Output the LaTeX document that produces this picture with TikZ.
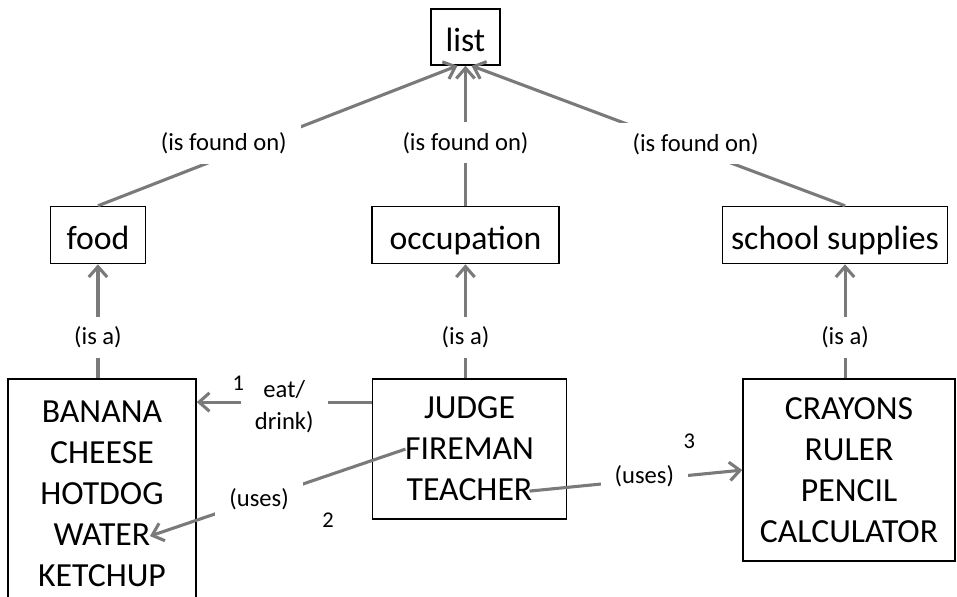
\documentclass[tikz,border=0pt]{standalone}
\usepackage{fontspec}
\setmainfont{Carlito}
\usetikzlibrary{arrows.meta,positioning}
\definecolor{linkgray}{RGB}{122,122,122}

\begin{document}
\begin{tikzpicture}[
    box/.style={rectangle,draw=black,line width=1.1pt,fill=white,align=center,
      inner sep=2pt,font=\fontsize{24}{29.2}\selectfont},
    concept/.style={box,text height=0.82cm,text depth=0.1cm,minimum height=1.425cm},
    link/.style={draw=linkgray,line width=2.2pt},
    arrow/.style={link,-{Straight Barb[length=2.6mm,width=4.6mm]}},
    lbl/.style={fill=white,inner xsep=10pt,inner ysep=7pt,align=center,
      font=\fontsize{17.5}{22.7}\selectfont},
    num/.style={inner sep=0pt,font=\fontsize{16}{19}\selectfont}
  ]
  \useasboundingbox (0,0) rectangle (23.925,-14.925);

  % concepts
  \node[concept,minimum width=1.725cm,minimum height=1.4cm] (list) at (11.6375,-0.925) {list};
  \node[concept,minimum width=4.675cm,below=3.5cm of list] (occupation) {occupation};
  \node[concept,minimum width=2.375cm,left=5.625cm of occupation] (food) {food};
  \node[concept,minimum width=5.625cm,right=4.05cm of occupation] (supplies) {school supplies};

  % examples
  \node[box,minimum width=4.7cm,minimum height=5.75cm,below=2.85cm of food,xshift=0.1cm] (foods)
    {BANANA\\CHEESE\\HOTDOG\\WATER\\KETCHUP};
  \node[box,minimum width=4.85cm,minimum height=3.5cm,below=2.85cm of occupation,xshift=0.1cm] (jobs)
    {JUDGE\\FIREMAN\\TEACHER};
  \node[box,minimum width=5.3cm,minimum height=4.55cm,below=2.85cm of supplies,xshift=0.35cm] (sitems)
    {CRAYONS\\RULER\\PENCIL\\CALCULATOR};

  \coordinate (sstop) at ([xshift=0.25cm]supplies.north);
  \coordinate (ssfoot) at ([xshift=0.25cm]supplies.south);
  \coordinate (eatstart) at ([yshift=1.175cm]jobs.west);
  \coordinate (fireman) at ([xshift=-1.6cm]jobs.center);
  \coordinate (teacher) at ([xshift=1.5cm,yshift=-1.05cm]jobs.center);
  \coordinate (water) at ([xshift=1.2cm,yshift=-1.05cm]foods.center);

  % is found on
  \draw[arrow] (food.north) -- node[lbl,pos=0.35,yshift=0.335cm]{(is found on)} ([xshift=-0.2cm]list.south);
  \draw[arrow] (occupation.north) -- node[lbl,pos=0.45]{(is found on)} (list.south);
  \draw[arrow] (sstop) -- node[lbl,pos=0.4,yshift=0.15cm]{(is found on)} ([xshift=0.15cm]list.south);

  % is a
  \draw[arrow] (food.south |- foods.north) -- node[lbl,pos=0.36]{(is a)} (food.south);
  \draw[arrow] (occupation.south |- jobs.north) -- node[lbl,pos=0.36]{(is a)} (occupation.south);
  \draw[arrow] (ssfoot |- sitems.north) -- node[lbl,pos=0.36]{(is a)} (ssfoot);

  % cross links
  \draw[arrow] (eatstart) -- node[lbl,pos=0.5,yshift=-0.125cm] (eat) {eat/\\drink)} (eatstart -| foods.east);
  \draw[arrow] (fireman) -- node[lbl,pos=0.573] (uses2) {(uses)} (water);
  \draw[arrow] (teacher) -- node[lbl,pos=0.54,yshift=0.1cm] (uses3) {(uses)} (sitems.west);

  \node[num] (n1) at ([xshift=-1.15cm,yshift=0.6cm]eat.center) {1};
  \node[num] (n2) at ([xshift=1.725cm,yshift=-0.525cm]uses2.center) {2};
  \node[num] (n3) at ([xshift=1.125cm,yshift=0.85cm]uses3.center) {3};
\end{tikzpicture}
\end{document}
